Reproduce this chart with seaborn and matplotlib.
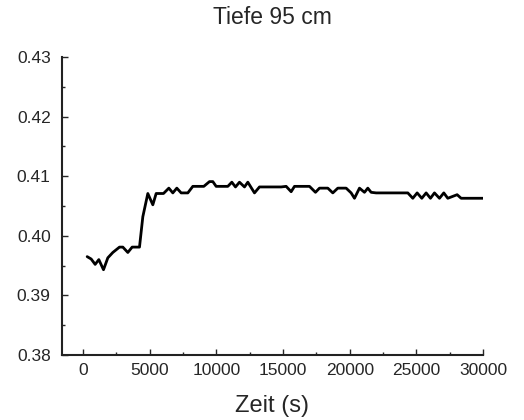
import matplotlib
matplotlib.use("Agg")
import matplotlib.pyplot as plt
from matplotlib.ticker import MultipleLocator, FormatStrFormatter
import seaborn as sns
import pandas as pd

# (depth 95 cm)
zeit = [300, 600, 900, 1175, 1525, 1850, 2225, 2725, 2975, 3350, 3675, 4225,
        4475, 4850, 5225, 5475, 6025, 6425, 6725, 7025, 7350, 7850, 8225,
        9050, 9475, 9725, 9975, 10850, 11150, 11425, 11725, 12100, 12350,
        12850, 13225, 14850, 15225, 15600, 15850, 16975, 17425, 17725, 18350,
        18725, 19100, 19725, 20100, 20350, 20725, 21100, 21350, 21600, 21975,
        24350, 24725, 25050, 25400, 25725, 26050, 26350, 26725, 27050, 27350,
        28050, 28350, 30000]
wert = [0.3965, 0.3961, 0.3952, 0.3960, 0.3943, 0.3963, 0.3972, 0.3981,
        0.3981, 0.3972, 0.3981, 0.3981, 0.4032, 0.4071, 0.4052, 0.4071,
        0.4071, 0.4080, 0.4072, 0.4080, 0.4072, 0.4072, 0.4083, 0.4083,
        0.4091, 0.4091, 0.4083, 0.4083, 0.4090, 0.4082, 0.4090, 0.4082,
        0.4090, 0.4072, 0.4082, 0.4082, 0.4083, 0.4074, 0.4083, 0.4083,
        0.4073, 0.4080, 0.4080, 0.4072, 0.4080, 0.4080, 0.4072, 0.4063,
        0.4080, 0.4073, 0.4080, 0.4073, 0.4072, 0.4072, 0.4063, 0.4072,
        0.4063, 0.4072, 0.4063, 0.4072, 0.4063, 0.4072, 0.4063, 0.4069,
        0.4063, 0.4063]

df = pd.DataFrame({"Zeit": zeit, "Wert": wert})

sns.set_style("ticks")
plt.rcParams["font.family"] = ["Liberation Sans", "DejaVu Sans"]
plt.rcParams["xtick.direction"] = "in"
plt.rcParams["ytick.direction"] = "in"

fig = plt.figure(figsize=(5.24, 4.2), dpi=100)
ax = fig.add_axes([0.118, 0.155, 0.804, 0.709])

sns.lineplot(data=df, x="Zeit", y="Wert", ax=ax, color="black", linewidth=2)

ax.set_xlim(-1600, 30000)
ax.set_ylim(0.38, 0.43)
ax.xaxis.set_major_locator(MultipleLocator(5000))
ax.xaxis.set_minor_locator(MultipleLocator(2500))
ax.yaxis.set_major_locator(MultipleLocator(0.01))
ax.yaxis.set_minor_locator(MultipleLocator(0.005))
ax.yaxis.set_major_formatter(FormatStrFormatter("%.2f"))

ax.tick_params(which="major", direction="in", length=4, width=1, labelsize=12.5)
ax.tick_params(which="minor", direction="in", length=2.5, width=1)
ax.tick_params(axis="y", pad=8)
ax.tick_params(axis="x", pad=6)

sns.despine(ax=ax)
for s in ["left", "bottom"]:
    ax.spines[s].set_linewidth(1.5)
    ax.spines[s].set_color("#222222")

ax.set_xlabel("Zeit (s)", fontsize=17, labelpad=12)
ax.set_ylabel("")
ax.set_title("Tiefe 95 cm", fontsize=16.5, pad=24)

fig.savefig("out.png", dpi=100)
